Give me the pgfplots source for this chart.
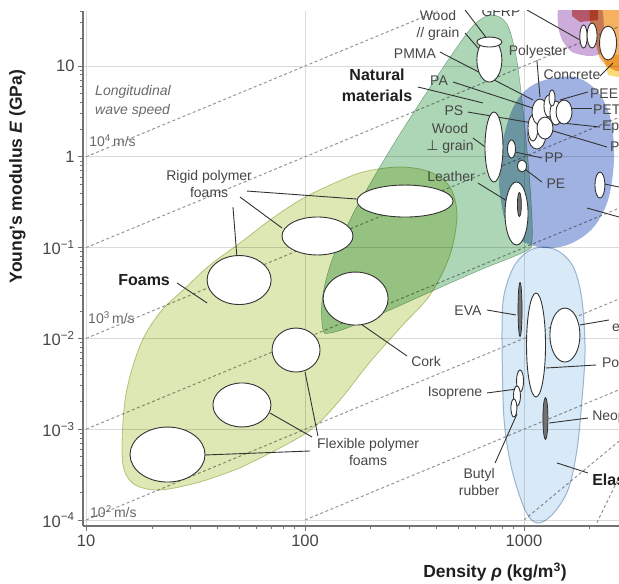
\documentclass[border=0pt]{standalone}
\usepackage{pgfplots}
\pgfplotsset{compat=1.18}
\usepackage{fontspec}
\setmainfont{Liberation Sans}
\newfontfamily\symfont{DejaVu Sans}

\definecolor{foamfill}{RGB}{221,232,180}
\definecolor{foamedge}{RGB}{192,206,150}
\definecolor{natfill}{RGB}{172,214,182}
\definecolor{polyfill}{RGB}{160,178,226}
\definecolor{elastfill}{RGB}{216,233,247}
\definecolor{elastedge}{RGB}{170,190,210}
\definecolor{purplefill}{RGB}{205,172,220}
\definecolor{pinkfill}{RGB}{226,130,125}
\definecolor{orangefill}{RGB}{246,178,96}
\definecolor{yellowfill}{RGB}{250,218,120}
\definecolor{guide}{RGB}{150,150,150}
\definecolor{gridc}{RGB}{218,218,218}
\definecolor{axisc}{RGB}{115,115,115}
\definecolor{txt}{RGB}{70,70,70}
\definecolor{spdtxt}{RGB}{105,105,105}
\definecolor{darkbub}{RGB}{115,115,115}

\tikzset{
  lbl/.style={font=\fontsize{14}{17}\selectfont, text=txt, align=center, inner sep=0pt},
  grp/.style={font=\fontsize{16}{20}\selectfont\bfseries, text=black!88, align=center, inner sep=0pt},
  spd/.style={font=\fontsize{14}{14}\selectfont, text=spdtxt, anchor=west, inner sep=0pt},
  leader/.style={draw=black!80, line width=0.9pt},
  guideline/.style={draw=guide, line width=1pt, dash pattern=on 3pt off 2.5pt},
}
% a material bubble: point at (log10 density, log10 modulus); #1, #2 = half-axes in pt
\pgfplotsset{
  bub/.style 2 args={only marks, mark=*, mark size=1pt,
    mark options={draw=black!80, fill=white, line width=0.9pt, xscale=#1, yscale=#2}},
  darkbub/.style 2 args={only marks, mark=*, mark size=1pt,
    mark options={draw=black!85, fill=darkbub, line width=0.7pt, xscale=#1, yscale=#2}},
}

\begin{document}
\begin{tikzpicture}
\path[use as bounding box] (0,0) rectangle (619pt,584pt);
\begin{axis}[
  at={(83pt,58pt)}, anchor=south west, scale only axis,
  width=536pt, height=515pt,
  xmin=0.986, xmax=3.434, ymin=-4.066, ymax=1.606,
  axis x line*=bottom, axis y line*=left,
  axis line style={draw=axisc, line width=1.3pt, -},
  xtick={1,2,3}, xticklabels={10,100,1000},
  ytick={-4,-3,-2,-1,0,1},
  yticklabels={10\textsuperscript{−4},10\textsuperscript{−3},10\textsuperscript{−2},10\textsuperscript{−1},1,10},
  minor xtick={1.301,1.477,1.602,1.699,1.778,1.845,1.903,1.954,2.301,2.477,2.602,2.699,2.778,2.845,2.903,2.954,3.301},
  minor ytick={-3.699,-3.523,-3.398,-3.301,-3.222,-3.155,-3.097,-3.046,
    -2.699,-2.523,-2.398,-2.301,-2.222,-2.155,-2.097,-2.046,
    -1.699,-1.523,-1.398,-1.301,-1.222,-1.155,-1.097,-1.046,
    -0.699,-0.523,-0.398,-0.301,-0.222,-0.155,-0.097,-0.046,
    0.301,0.477,0.602,0.699,0.778,0.845,0.903,0.954,1.301,1.477,1.602},
  tick align=outside, major tick length=5pt, minor tick length=3pt,
  tick style={draw=axisc, line width=0.9pt},
  grid=major, major grid style={draw=gridc, line width=0.7pt},
  ticklabel style={font=\fontsize{16.5}{18}\selectfont, text=txt},
]

% lines of constant longitudinal wave speed (slope 1) and steeper guides
\addplot[guideline] coordinates {(1,0) (2.606,1.606)};
\addplot[guideline] coordinates {(1,-1) (3.434,1.434)};
\addplot[guideline] coordinates {(1,-2) (3.434,0.434)};
\addplot[guideline] coordinates {(1,-3) (3.434,-0.566)};
\addplot[guideline] coordinates {(1,-4) (3.434,-1.566)};
\addplot[guideline] coordinates {(2,-4) (3.434,-2.566)};
\addplot[guideline] coordinates {(3,-4) (3.434,-3.132)};
\addplot[guideline] coordinates {(3.333,-4.03) (3.434,-3.53)};

% material family envelopes
\addplot[fill=foamfill, draw=foamedge, line width=0.8pt, smooth, tension=0.55, blend mode=multiply] coordinates {
(1.703,-3.427) (1.521,-3.581) (1.338,-3.670) (1.224,-3.614) (1.174,-3.449) (1.164,-3.174)
(1.178,-2.678) (1.215,-2.293) (1.269,-1.963) (1.347,-1.687) (1.443,-1.467) (1.566,-1.192)
(1.703,-0.949) (1.840,-0.696) (1.977,-0.476) (2.114,-0.311) (2.265,-0.167) (2.434,-0.112)
(2.571,-0.167) (2.662,-0.333) (2.694,-0.641) (2.662,-1.081) (2.571,-1.522) (2.447,-1.852)
(2.297,-2.260) (2.160,-2.678) (2.037,-2.987) (1.886,-3.207) (1.703,-3.427)};

\addplot[fill=natfill, draw=natfill!85!black, line width=0.5pt, smooth, tension=0.55, blend mode=multiply] coordinates {
(2.228,-0.586) (2.388,0.075) (2.548,0.681) (2.685,1.176) (2.776,1.463) (2.854,1.562)
(2.922,1.463) (2.963,1.121) (2.991,0.626) (3.014,0.075) (3.032,-0.476) (3.037,-0.916)
(3.009,-1.037) (2.799,-1.247) (2.571,-1.489) (2.388,-1.687) (2.205,-1.874) (2.114,-1.940)
(2.082,-1.907) (2.078,-1.577) (2.123,-1.137) (2.228,-0.586)};

\addplot[fill=polyfill, draw=none, smooth, tension=0.55, blend mode=multiply] coordinates {
(2.886,-0.311) (2.900,0.130) (2.945,0.515) (3.009,0.736) (3.096,0.846) (3.233,0.879)
(3.338,0.714) (3.397,0.405) (3.411,-0.035) (3.384,-0.476) (3.315,-0.784) (3.210,-0.960)
(3.096,-1.004) (2.982,-0.916) (2.913,-0.696) (2.886,-0.311)};

\addplot[fill=elastfill, draw=elastedge, line width=1pt, smooth, tension=0.55, blend mode=multiply] coordinates {
(2.900,-2.128) (2.905,-1.577) (2.950,-1.225) (3.014,-1.048) (3.087,-0.993) (3.164,-1.048)
(3.228,-1.225) (3.265,-1.577) (3.279,-2.128) (3.265,-2.678) (3.242,-3.229) (3.201,-3.670)
(3.128,-3.945) (3.059,-4.033) (3.005,-3.890) (2.945,-3.449) (2.909,-2.899) (2.900,-2.128)};

\addplot[fill=purplefill, draw=none, smooth, tension=0.4, blend mode=multiply] coordinates {
(3.155,1.70) (3.347,1.70) (3.361,1.176) (3.301,1.110) (3.219,1.154) (3.174,1.286) (3.155,1.452) (3.155,1.70)};
\addplot[fill=orangefill, draw=none, smooth, tension=0.4, blend mode=multiply] coordinates {
(3.301,1.70) (3.45,1.70) (3.45,0.978) (3.393,0.978) (3.347,1.088) (3.324,1.286) (3.301,1.507) (3.301,1.70)};
\addplot[fill=yellowfill, draw=none, blend mode=multiply] coordinates {
(3.361,1.121) (3.45,1.121) (3.45,0.868) (3.384,0.901) (3.361,1.121)};
\addplot[fill=pinkfill, draw=none, blend mode=multiply] coordinates {
(3.22,1.70) (3.34,1.70) (3.338,1.507) (3.256,1.485) (3.22,1.55) (3.22,1.70)};

% foams
\addplot[bub={37.5}{27.5}] coordinates {(1.372,-3.279)};
\addplot[bub={29}{22}] coordinates {(1.712,-2.733)};
\addplot[bub={24}{22}] coordinates {(1.959,-2.128)};
\addplot[bub={32}{24.5}] coordinates {(1.699,-1.357)};
\addplot[bub={35.5}{19}] coordinates {(2.057,-0.872)};
\addplot[bub={48}{16}] coordinates {(2.457,-0.487)};
% natural materials
\addplot[bub={32.5}{26.5}] coordinates {(2.231,-1.561)};
\addplot[bub={12.5}{22}] coordinates {(2.842,1.066)};
\addplot[bub={12.5}{5}] coordinates {(2.842,1.264)};
\addplot[bub={9}{35}] coordinates {(2.863,0.108)};
\addplot[bub={11.5}{31.5}] coordinates {(2.966,-0.624)};
\addplot[darkbub={2}{12}] coordinates {(2.979,-0.525)};
% polymers
\addplot[bub={4}{9}] coordinates {(2.943,0.086)};
\addplot[bub={4.5}{6}] coordinates {(2.991,-0.101)};
\addplot[bub={9}{14}] coordinates {(3.059,0.240)};
\addplot[bub={5}{13}] coordinates {(3.041,0.317)};
\addplot[bub={8}{13}] coordinates {(3.073,0.493)};
\addplot[bub={8}{11}] coordinates {(3.096,0.317)};
\addplot[bub={5}{11}] coordinates {(3.114,0.559)};
\addplot[bub={6}{12}] coordinates {(3.146,0.482)};
\addplot[bub={8}{12}] coordinates {(3.183,0.493)};
\addplot[bub={3}{8}] coordinates {(3.128,0.648)};
\addplot[bub={5}{13}] coordinates {(3.347,-0.311)};
% composites
\addplot[bub={3.7}{11.5}] coordinates {(3.272,1.325)};
\addplot[bub={5}{12.5}] coordinates {(3.311,1.336)};
\addplot[bub={8.5}{17}] coordinates {(3.384,1.253)};
% elastomers
\addplot[darkbub={2}{27}] coordinates {(2.982,-1.682)};
\addplot[bub={9.5}{52}] coordinates {(3.055,-2.073)};
\addplot[bub={15}{27}] coordinates {(3.187,-1.963)};
\addplot[bub={3.5}{11}] coordinates {(2.982,-2.469)};
\addplot[bub={3.5}{10}] coordinates {(2.968,-2.634)};
\addplot[bub={3}{9}] coordinates {(2.954,-2.766)};
\addplot[darkbub={2.5}{21}] coordinates {(3.098,-2.882)};

% leaders
\draw[leader] (1.735,-0.377) -- (2.237,-0.465);
\draw[leader] (1.703,-0.443) -- (1.895,-0.784);
\draw[leader] (1.671,-0.553) -- (1.689,-1.104);
\draw[leader] (1.416,-1.390) -- (1.553,-1.610);
\draw[leader] (2.023,-3.240) -- (1.543,-3.284);
\draw[leader] (2.032,-3.086) -- (1.840,-2.822);
\draw[leader] (2.059,-3.075) -- (2.000,-2.370);
\draw[leader] (2.242,-1.819) -- (2.466,-2.194);
\draw[leader] (2.516,0.769) -- (2.813,0.593);
\draw[leader] (2.731,1.617) -- (2.836,1.286);
\draw[leader] (2.731,1.363) -- (2.845,1.044);
\draw[leader] (3.014,1.617) -- (3.256,1.286);
\draw[leader] (2.616,1.154) -- (3.041,0.626);
\draw[leader] (3.059,1.066) -- (3.073,0.659);
\draw[leader] (3.347,0.890) -- (3.406,1.033);
\draw[leader] (3.164,0.626) -- (3.292,0.714);
\draw[leader] (3.178,0.537) -- (3.311,0.537);
\draw[leader] (3.132,0.383) -- (3.347,0.328);
\draw[leader] (3.073,0.328) -- (3.379,0.108);
\draw[leader] (2.676,0.824) -- (3.041,0.537);
\draw[leader] (2.744,0.493) -- (3.041,0.372);
\draw[leader] (2.767,0.207) -- (2.854,0.053);
\draw[leader] (2.959,0.053) -- (3.082,-0.013);
\draw[leader] (2.991,-0.112) -- (3.082,-0.278);
\draw[leader] (2.790,-0.289) -- (2.945,-0.520);
\draw[leader] (3.370,-0.300) -- (3.434,-0.333);
\draw[leader] (3.288,-0.564) -- (3.434,-0.663);
\draw[leader] (2.831,-1.687) -- (2.963,-1.742);
\draw[leader] (3.100,-2.326) -- (3.329,-2.293);
\draw[leader] (3.256,-1.852) -- (3.388,-1.797);
\draw[leader] (2.831,-2.601) -- (2.968,-2.557);
\draw[leader] (2.868,-3.372) -- (2.968,-2.833);
\draw[leader] (3.114,-2.932) -- (3.292,-2.877);
\draw[leader] (3.151,-3.372) -- (3.292,-3.482);

% labels
\node[anchor=west, align=left, inner sep=0pt, text=spdtxt,
  font=\fontsize{14}{19}\selectfont\itshape] at (1.041,0.615) {Longitudinal\\wave speed};
\node[spd] at (1.014,0.174) {10\textsuperscript{4}\,m/s};
\node[spd] at (1.009,-1.775) {10\textsuperscript{3}\,m/s};
\node[spd] at (1.018,-3.912) {10\textsuperscript{2}\,m/s};

\node[lbl] at (1.562,-0.300) {Rigid polymer\\foams};
\node[grp] at (1.265,-1.357) {Foams};
\node[lbl] at (2.288,-3.251) {Flexible polymer\\foams};
\node[lbl] at (2.553,-2.249) {Cork};
\node[grp, font=\fontsize{16}{21}\selectfont\bfseries] at (2.329,0.791) {Natural\\materials};
\node[lbl] at (2.607,1.452) {Wood\\// grain};
\node[lbl] at (2.895,1.595) {GFRP};
\node[lbl] at (2.502,1.132) {PMMA};
\node[lbl] at (3.064,1.154) {Polyester};
\node[lbl] at (3.219,0.901) {Concrete};
\node[lbl, anchor=west] at (3.301,0.692) {PEEK};
\node[lbl, anchor=west] at (3.315,0.515) {PET};
\node[lbl, anchor=west] at (3.356,0.328) {Epoxy};
\node[lbl, anchor=west] at (3.393,0.108) {PC};
\node[lbl] at (2.612,0.835) {PA};
\node[lbl] at (2.680,0.504) {PS};
\node[lbl] at (2.662,0.207) {Wood\\{\symfont ⊥} grain};
\node[lbl] at (3.137,-0.013) {PP};
\node[lbl] at (3.146,-0.300) {PE};
\node[lbl] at (2.667,-0.222) {Leather};
\node[lbl] at (2.744,-1.698) {EVA};
\node[lbl, anchor=west] at (3.356,-2.282) {Polyurethane};
\node[lbl, anchor=west] at (3.402,-1.874) {elastomer};
\node[lbl] at (2.685,-2.601) {Isoprene};
\node[lbl] at (2.795,-3.581) {Butyl\\rubber};
\node[lbl, anchor=west] at (3.311,-2.866) {Neoprene};
\node[grp, anchor=west] at (3.311,-3.559) {Elastomers};
\end{axis}

\node[rotate=90, font=\fontsize{17.5}{20}\selectfont\bfseries, text=black!88]
  at (17.5pt,407.5pt) {Young’s modulus \textit{E} (GPa)};
\node[font=\fontsize{17.5}{20}\selectfont\bfseries, text=black!88]
  at (495pt,12pt) {Density \textit{ρ} (kg/m\textsuperscript{3})};
\end{tikzpicture}
\end{document}
